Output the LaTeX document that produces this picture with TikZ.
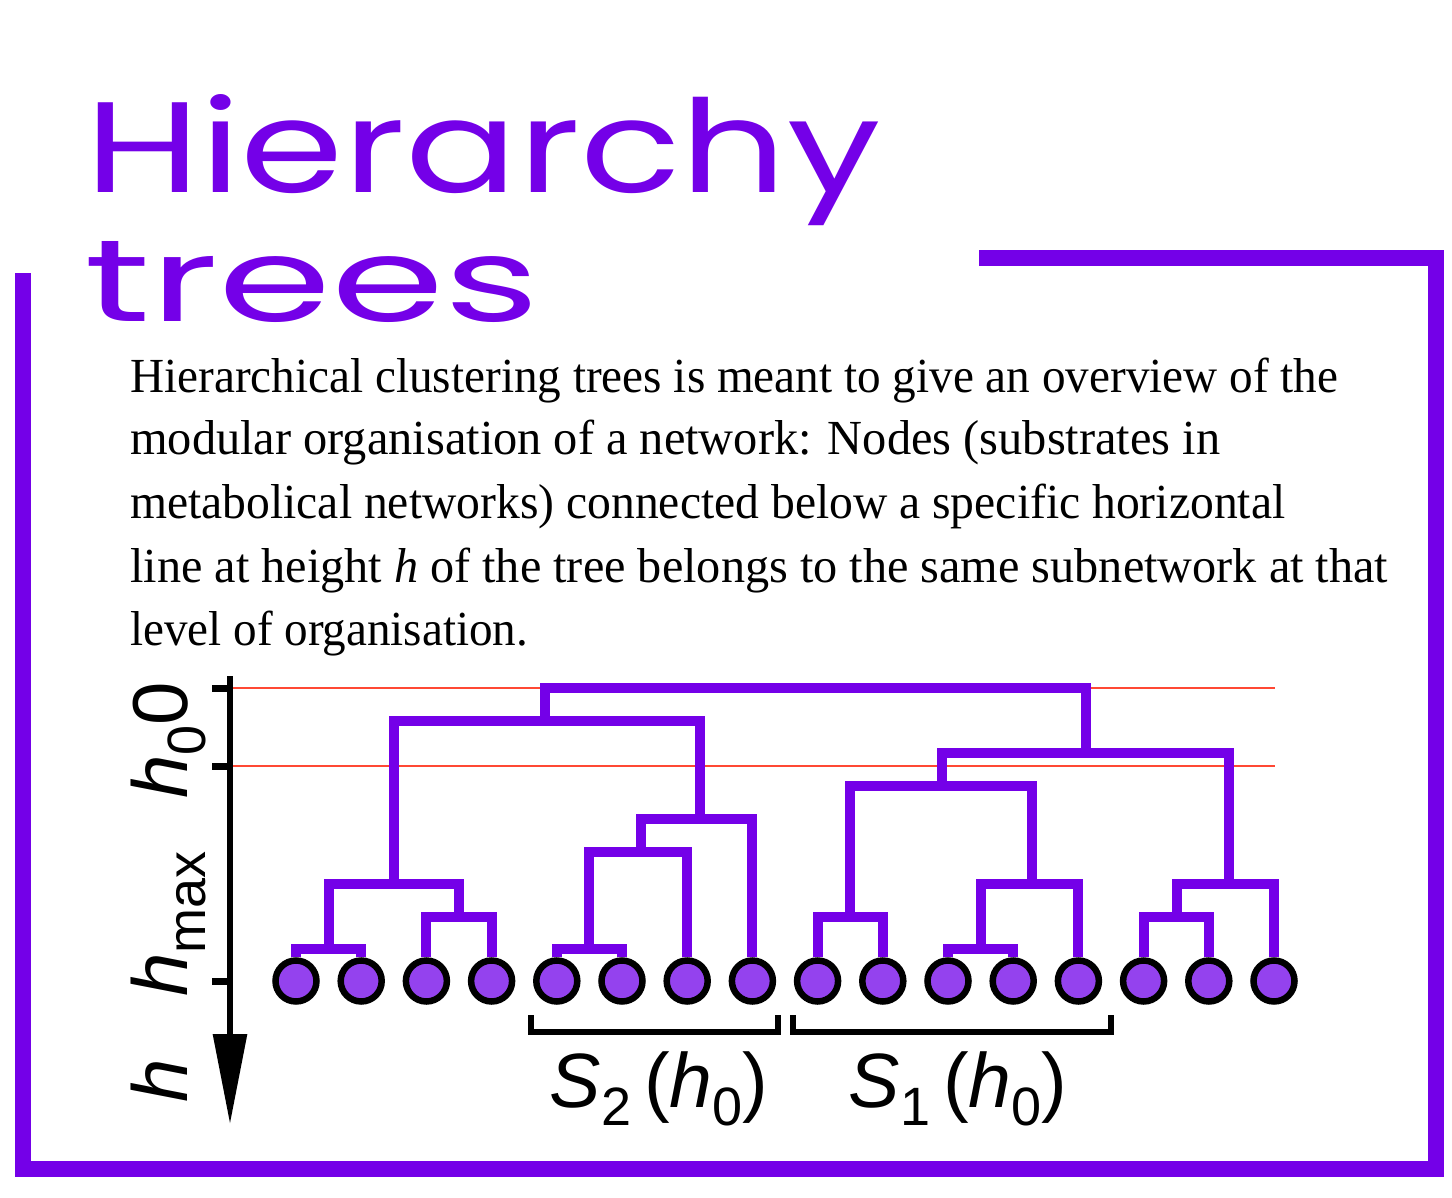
\documentclass[tikz,border=0pt]{standalone}
\usepackage{fontspec}
\usepackage{graphicx}
\setmainfont{Liberation Serif}
\newfontfamily\labfont{Liberation Sans}
\newfontfamily\titlefont{Poppins}
\usetikzlibrary{arrows.meta}
\definecolor{pur}{RGB}{116,0,232}
\definecolor{leafc}{RGB}{148,66,238}
\definecolor{redl}{RGB}{255,72,52}
\newcommand\labsub[1]{\raisebox{-0.24em}{\fontsize{54}{54}\selectfont #1}}
\begin{document}
\begin{tikzpicture}[x=1pt,y=-1pt,
  frameline/.style={draw=pur,line width=16pt,line join=miter},
  tree/.style={draw=pur,line width=10pt,line join=miter},
  leafnode/.style={circle,draw=black,line width=6.5pt,fill=leafc,minimum size=41pt,inner sep=0pt},
  redline/.style={draw=redl,line width=2pt},
  axisline/.style={draw=black,line width=6pt,-{Triangle[length=90pt,width=33pt]}},
  tickline/.style={draw=black,line width=7pt},
  bracket/.style={draw=black,line width=5.5pt,line join=miter},
  axlab/.style={rotate=90,anchor=base,inner sep=0pt,font=\labfont\fontsize{78}{78}\selectfont},
  slab/.style={anchor=base,inner sep=0pt,font=\labfont\fontsize{77}{77}\selectfont},
  bodyline/.style={anchor=base west,inner sep=0pt,font=\fontsize{49}{49}\selectfont},
  titletext/.style={anchor=base west,inner sep=0pt,text=pur,font=\titlefont}
]
\useasboundingbox (0,0) rectangle (1452,1198);
\fill[white] (0,0) rectangle (1452,1198);

% frame
\coordinate (f1) at (979,258);
\coordinate (f2) at (1436,258);
\coordinate (f3) at (1436,1169);
\coordinate (f4) at (23,1169);
\coordinate (f5) at (23,273);
\draw[frameline] (f1) -- (f2) -- (f3) -- (f4) -- (f5);

% title
\node[titletext] (t1) at (85,193) {\resizebox{795pt}{98pt}{Hierarchy}};
\node[titletext] (t2) at (84,322) {\resizebox{455pt}{80pt}{trees}};

% body text
\node[bodyline] (p1) at (130,393) {\resizebox{1208pt}{\height}{Hierarchical clustering trees is meant to give an overview of the}};
\node[bodyline] (p2) at (130,455) {\resizebox{1090pt}{\height}{modular organisation of a network: Nodes (substrates in}};
\node[bodyline] (p3) at (130,518) {\resizebox{1155pt}{\height}{metabolical networks) connected below a specific horizontal}};
\node[bodyline] (p4) at (130,582) {\resizebox{1258pt}{\height}{line at height \textit{h} of the tree belongs to the same subnetwork at that}};
\node[bodyline] (p5) at (130,645) {\resizebox{398pt}{\height}{level of organisation.}};

% red reference lines
\coordinate (r0a) at (233,688); \coordinate (r0b) at (1275,688);
\coordinate (r1a) at (233,766); \coordinate (r1b) at (1275,766);
\draw[redline] (r0a) -- (r0b);
\draw[redline] (r1a) -- (r1b);

% axis
\coordinate (axtop) at (230,676);
\coordinate (axend) at (230,1124);
\draw[axisline] (axtop) -- (axend);
\coordinate (k0a) at (212,688); \coordinate (k0b) at (230,688);
\coordinate (k1a) at (212,766); \coordinate (k1b) at (230,766);
\coordinate (k2a) at (212,981); \coordinate (k2b) at (230,981);
\draw[tickline] (k0a) -- (k0b);
\draw[tickline] (k1a) -- (k1b);
\draw[tickline] (k2a) -- (k2b);
\node[axlab] (lab0) at (187,704) {0};
\node[axlab] (labh0) at (187,762) {\textit{h}\labsub{0}};
\node[axlab] (labhmax) at (187,924) {\textit{h}\labsub{max}};
\node[axlab] (labh) at (187,1081) {\textit{h}};

% leaves
\foreach \i in {1,...,16} {
  \node[leafnode] (l\i) at ({296+65.2*(\i-1)},981) {};
}

% internal nodes of the tree
\coordinate (n12) at (328.6,949);
\coordinate (n34) at (459,917);
\coordinate (a1) at (393.8,884);
\coordinate (n56) at (589.4,949);
\coordinate (a2a) at (641,852);
\coordinate (a2) at (700,819);
\coordinate (A) at (544.6,721);
\coordinate (n910) at (850.2,917);
\coordinate (n1112) at (981,949);
\coordinate (b1b) at (1032,884);
\coordinate (B1) at (942,786);
\coordinate (n1415) at (1177,917);
\coordinate (B2) at (1229,884);
\coordinate (B) at (1086,753);
\coordinate (root) at (815,688);

\draw[tree] (l1) |- (n12) -| (l2);
\draw[tree] (l3) |- (n34) -| (l4);
\draw[tree] (n12) |- (a1) -| (n34);
\draw[tree] (l5) |- (n56) -| (l6);
\draw[tree] (n56) |- (a2a) -| (l7);
\draw[tree] (a2a) |- (a2) -| (l8);
\draw[tree] (a1) |- (A) -| (a2);
\draw[tree] (l9) |- (n910) -| (l10);
\draw[tree] (l11) |- (n1112) -| (l12);
\draw[tree] (n1112) |- (b1b) -| (l13);
\draw[tree] (n910) |- (B1) -| (b1b);
\draw[tree] (l14) |- (n1415) -| (l15);
\draw[tree] (n1415) |- (B2) -| (l16);
\draw[tree] (B1) |- (B) -| (B2);
\draw[tree] (A) |- (root) -| (B);

% brackets
\coordinate (s2a) at (531,1015); \coordinate (s2b) at (531,1032);
\coordinate (s2c) at (778,1032); \coordinate (s2d) at (778,1015);
\coordinate (s1a) at (793,1015); \coordinate (s1b) at (793,1032);
\coordinate (s1c) at (1111,1032); \coordinate (s1d) at (1111,1015);
\draw[bracket] (s2a) -- (s2b) -- (s2c) -- (s2d);
\draw[bracket] (s1a) -- (s1b) -- (s1c) -- (s1d);
\node[slab] (S2) at (659,1107) {\textit{S}\labsub{2}\,(\textit{h}\labsub{0})};
\node[slab] (S1) at (958,1107) {\textit{S}\labsub{1}\,(\textit{h}\labsub{0})};
\end{tikzpicture}
\end{document}
